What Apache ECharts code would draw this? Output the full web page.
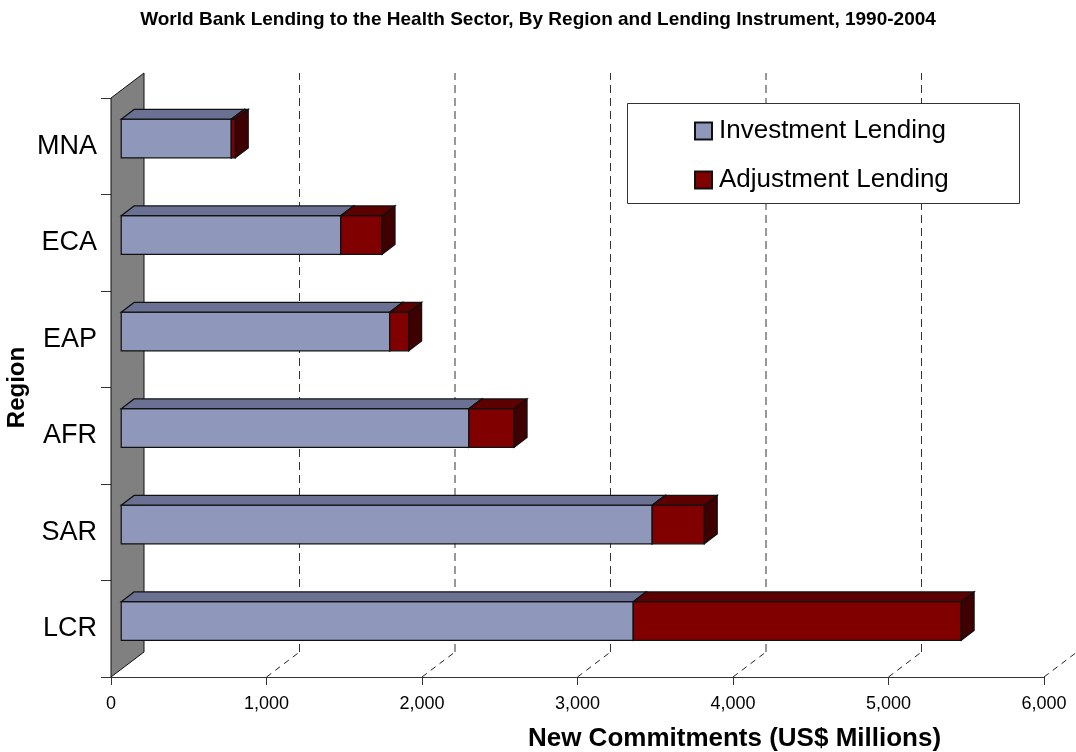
<!DOCTYPE html>
<html>
<head>
<meta charset="utf-8">
<script src="https://cdn.jsdelivr.net/npm/echarts@6/dist/echarts.min.js"></script>
<style>html,body{margin:0;padding:0;background:#fff}#c{width:1076px;height:752px}</style>
</head>
<body>
<div id="c"></div>
<script>
const categories = ['MNA', 'ECA', 'EAP', 'AFR', 'SAR', 'LCR'];
const investment = [708, 1412, 1727, 2236, 3415, 3293];
const adjustment = [26, 266, 122, 291, 335, 2109];
const xTicks = [0, 1000, 2000, 3000, 4000, 5000, 6000];
const titleText = 'World Bank Lending to the Health Sector, By Region and Lending Instrument, 1990-2004';

const DX = 33, DY = -25;      // 3D depth offset (style)
const F1 = 0.31, F2 = 0.70;   // bar depth position (style)
const BAR_RATIO = 0.4;
const FONT = '"Liberation Sans", Arial, sans-serif';

function boxShape(api, v0, v1, ci, cFront, cTop, cSide) {
  const p0 = api.coord([v0, ci]);
  const p1 = api.coord([v1, ci]);
  const band = api.size([0, 1])[1];
  const h = band * BAR_RATIO;
  const fx = DX * F1, fy = DY * F1;
  const bx = DX * (F2 - F1), by = DY * (F2 - F1);
  const L = p0[0] + fx, R = p1[0] + fx;
  const T = p0[1] + fy - h / 2, B = T + h;
  const st = {stroke: '#111', lineWidth: 1.2};
  return {
    type: 'group',
    children: [
      {type: 'rect', shape: {x: L, y: T, width: R - L, height: h}, style: Object.assign({fill: cFront}, st)},
      {type: 'polygon', shape: {points: [[L, T], [L + bx, T + by], [R + bx, T + by], [R, T]]}, style: Object.assign({fill: cTop}, st)},
      {type: 'polygon', shape: {points: [[R, T], [R + bx, T + by], [R + bx, B + by], [R, B]]}, style: Object.assign({fill: cSide}, st)}
    ]
  };
}

const chart = echarts.init(document.getElementById('c'), null, {renderer: 'canvas'});
chart.setOption({
  animation: false,
  backgroundColor: '#fff',
  title: {
    text: titleText, left: 'center', top: 5,
    textStyle: {fontFamily: FONT, fontSize: 19, fontWeight: 'bold', color: '#000'}
  },
  grid: {left: 111, right: 32, top: 98, bottom: 75, containLabel: false, outerBoundsMode: 'none'},
  xAxis: {
    type: 'value', min: 0, max: 6000, interval: 1000,
    name: 'New Commitments (US$ Millions)', nameLocation: 'middle', nameGap: 49,
    nameMoveOverlap: false,
    nameTextStyle: {fontFamily: FONT, fontSize: 26, fontWeight: 'bold', color: '#000', padding: [0, 0, 0, 314]},
    axisLine: {show: true, lineStyle: {color: '#333', width: 1}},
    axisTick: {show: true, length: 8, lineStyle: {color: '#333'}},
    axisLabel: {fontFamily: FONT, fontSize: 18, color: '#000', margin: 18,
      formatter: v => v.toLocaleString('en-US')},
    splitLine: {show: false}
  },
  yAxis: {
    type: 'category', data: categories, inverse: true,
    name: 'Region', nameLocation: 'middle', nameRotate: 90, nameGap: 82,
    nameMoveOverlap: false,
    nameTextStyle: {fontFamily: FONT, fontSize: 24, fontWeight: 'bold', color: '#000'},
    axisLine: {show: false},
    axisTick: {show: true, length: 10, lineStyle: {color: '#333'}},
    axisLabel: {fontFamily: FONT, fontSize: 27, color: '#000', margin: 14}
  },
  legend: {
    orient: 'vertical', left: 694, top: 117, itemWidth: 17, itemHeight: 17, itemGap: 21,
    icon: 'rect', z: 10, padding: 0,
    textStyle: {fontFamily: FONT, fontSize: 26, color: '#000', lineHeight: 28, padding: [0, 0, 0, 2]},
    data: ['Investment Lending', 'Adjustment Lending']
  },
  graphic: [{
    type: 'rect', z: 5, left: 627, top: 103,
    shape: {width: 392, height: 100},
    style: {fill: '#fff', stroke: '#333', lineWidth: 1}
  }],
  series: [
    {
      type: 'custom', name: 'wall', z: 1, silent: true,
      data: [[0, 0]],
      encode: {x: 0, y: 1},
      renderItem: function (params, api) {
        const cs = params.coordSys;
        const x0 = cs.x, top = cs.y, bot = cs.y + cs.height;
        return {
          type: 'polygon',
          shape: {points: [[x0, top], [x0 + DX, top + DY], [x0 + DX, bot + DY], [x0, bot]]},
          style: {fill: '#808080', stroke: '#111', lineWidth: 1}
        };
      }
    },
    {
      type: 'custom', name: 'grid3d', z: 1, silent: true,
      data: xTicks.slice(1).map(v => [v, 0]),
      encode: {x: 0, y: 1},
      clip: false,
      renderItem: function (params, api) {
        const cs = params.coordSys;
        const x = api.coord([api.value(0), 0])[0];
        const top = cs.y, bot = cs.y + cs.height;
        return {
          type: 'group',
          children: [
            {type: 'line', shape: {x1: x, y1: bot, x2: x + DX, y2: bot + DY},
              style: {stroke: '#222', lineWidth: 1, lineDash: [6, 5]}},
            {type: 'line', shape: {x1: x + DX, y1: bot + DY, x2: x + DX, y2: top + DY},
              style: {stroke: '#333', lineWidth: 1, lineDash: [8, 5]}}
          ]
        };
      }
    },
    {
      type: 'custom', name: 'Investment Lending', z: 2,
      itemStyle: {color: '#8F97BB', borderColor: '#111', borderWidth: 1},
      data: categories.map((c, i) => [0, investment[i], i]),
      encode: {x: [0, 1], y: 2},
      renderItem: function (params, api) {
        return boxShape(api, api.value(0), api.value(1), api.value(2), '#8F97BB', '#6B7192', '#4E5370');
      }
    },
    {
      type: 'custom', name: 'Adjustment Lending', z: 2,
      itemStyle: {color: '#800000', borderColor: '#111', borderWidth: 1},
      data: categories.map((c, i) => [investment[i], investment[i] + adjustment[i], i]),
      encode: {x: [0, 1], y: 2},
      renderItem: function (params, api) {
        return boxShape(api, api.value(0), api.value(1), api.value(2), '#800000', '#5C0000', '#3E0000');
      }
    }
  ]
});
</script>
</body>
</html>
